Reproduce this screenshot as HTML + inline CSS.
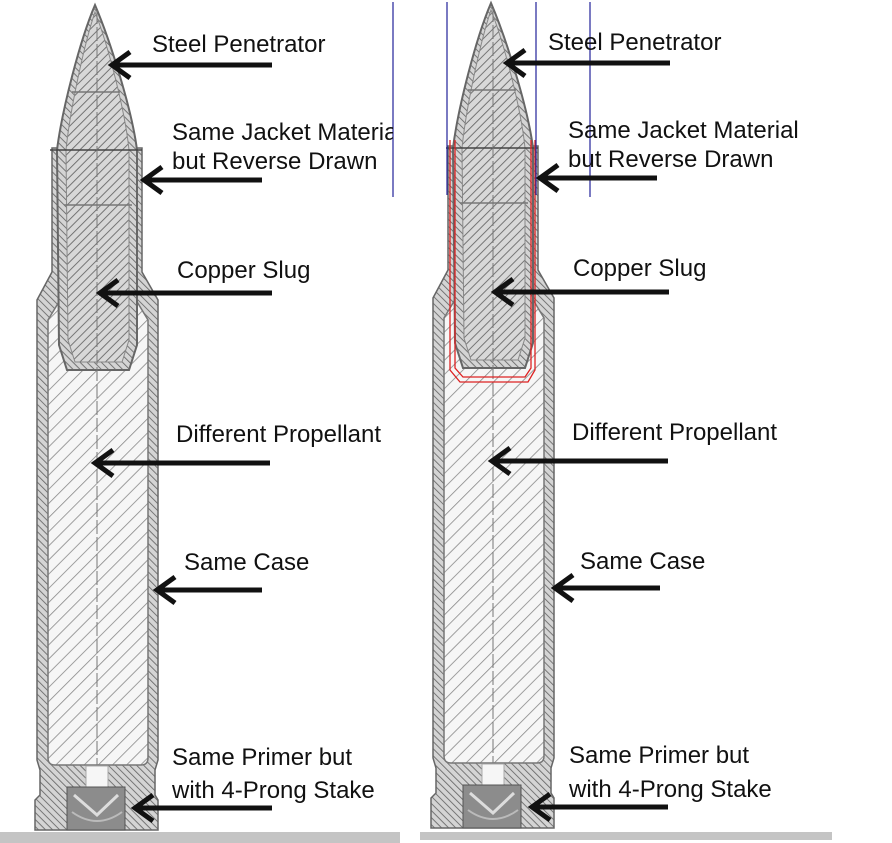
<!DOCTYPE html>
<html><head><meta charset="utf-8"><style>
html,body{margin:0;padding:0;background:#fff;}
svg{display:block;}
text{font-family:"Liberation Sans",sans-serif;font-size:24px;fill:#111;}
</style></head><body>
<svg width="892" height="843" viewBox="0 0 892 843" xmlns="http://www.w3.org/2000/svg">
<defs>
<clipPath id="cl"><rect x="0" y="0" width="393" height="843"/></clipPath>
<pattern id="h" width="6" height="6" patternUnits="userSpaceOnUse" patternTransform="rotate(45)">
<rect width="6" height="6" fill="#d8d8d8"/><line x1="0" y1="0" x2="0" y2="6" stroke="#6a6a6a" stroke-width="1.8"/></pattern>
<pattern id="h2" width="5" height="5" patternUnits="userSpaceOnUse" patternTransform="rotate(-45)">
<rect width="5" height="5" fill="#d4d4d4"/><line x1="0" y1="0" x2="0" y2="5" stroke="#666" stroke-width="1.7"/></pattern>
<pattern id="h3" width="10" height="10" patternUnits="userSpaceOnUse" patternTransform="rotate(45)">
<rect width="10" height="10" fill="#f6f6f6"/><line x1="0" y1="0" x2="0" y2="10" stroke="#888" stroke-width="1.6"/></pattern>
<g id="cart">
  <path d="M52,148 L52,272 L37,300 L37,760 L40,770 L40,795 L35,800 L35,830 L158,830 L158,800 L155,795 L155,770 L158,760 L158,300 L142,272 L142,148 Z" fill="url(#h2)" stroke="#666" stroke-width="1.5"/>
  <path d="M48,320 L60,300 L60,275 L136,275 L136,300 L148,320 L148,758 Q148,765 141,765 L55,765 Q48,765 48,758 Z" fill="url(#h3)" stroke="#777" stroke-width="1.5"/>
  <path d="M95,5 C80,40 62,110 57,150 L59,345 L67,370 L129,370 L137,345 L137,150 C132,110 110,40 95,5 Z" fill="url(#h2)" stroke="#666" stroke-width="2"/>
  <path d="M95,12 C84,45 70,110 66,150 L68,340 L75,362 L122,362 L129,340 L129,150 C125,110 108,45 95,12 Z" fill="url(#h)" stroke="#888" stroke-width="1"/>
  <line x1="72" y1="92" x2="120" y2="92" stroke="#777" stroke-width="1.5"/>
  <line x1="50" y1="150" x2="142" y2="150" stroke="#444" stroke-width="1.5"/>
  <line x1="64" y1="205" x2="132" y2="205" stroke="#777" stroke-width="1.5"/>
  <line x1="97" y1="10" x2="97" y2="800" stroke="#777" stroke-width="1" stroke-dasharray="14,3"/>
  <rect x="86" y="766" width="22" height="21" fill="#f6f6f6" stroke="#aaa"/>
  <rect x="67" y="787" width="58" height="43" fill="#8c8c8c" stroke="#555"/>
  <path d="M74,795 L97,815 L118,795" fill="none" stroke="#ddd" stroke-width="3"/>
  <path d="M72,812 Q97,830 122,812" fill="none" stroke="#bbb" stroke-width="2"/>
</g>
</defs>

<use href="#cart"/>
<use href="#cart" transform="translate(396,-2)"/>

<path d="M450,140 L450,370 L460,382 L528,382 L535,370 L535,140" fill="none" stroke="#d22" stroke-width="1.3"/>
<path d="M455,140 L455,368 L463,377 L525,377 L531,368 L531,140" fill="none" stroke="#d22" stroke-width="1.3"/>

<g stroke="#22229a" stroke-width="1.2">
<line x1="393" y1="2" x2="393" y2="197"/>
<line x1="447" y1="2" x2="447" y2="195"/>
<line x1="536" y1="2" x2="536" y2="195"/>
<line x1="590" y1="2" x2="590" y2="197"/>
</g>

<g stroke="#111" stroke-width="5" fill="none">
<path d="M272,65 L112,65 M130,52 L112,65 L130,78"/>
<path d="M262,180 L144,180 M162,167 L144,180 L162,193"/>
<path d="M272,293 L100,293 M118,280 L100,293 L118,306"/>
<path d="M270,463 L95,463 M113,450 L95,463 L113,476"/>
<path d="M262,590 L157,590 M175,577 L157,590 L175,603"/>
<path d="M272,808 L135,808 M153,795 L135,808 L153,821"/>
<path d="M670,63 L507,63 M525,50 L507,63 L525,76"/>
<path d="M657,178 L540,178 M558,165 L540,178 L558,191"/>
<path d="M669,292 L495,292 M513,279 L495,292 L513,305"/>
<path d="M668,461 L492,461 M510,448 L492,461 L510,474"/>
<path d="M660,588 L555,588 M573,575 L555,588 L573,601"/>
<path d="M668,807 L532,807 M550,794 L532,807 L550,820"/>
</g>

<g clip-path="url(#cl)">
<text x="152" y="52">Steel Penetrator</text>
<text x="172" y="140">Same Jacket Material</text>
<text x="172" y="169">but Reverse Drawn</text>
<text x="177" y="278">Copper Slug</text>
<text x="176" y="442">Different Propellant</text>
<text x="184" y="570">Same Case</text>
<text x="172" y="765">Same Primer but</text>
<text x="172" y="798">with 4-Prong Stake</text>
</g>

<text x="548" y="50">Steel Penetrator</text>
<text x="568" y="138">Same Jacket Material</text>
<text x="568" y="167">but Reverse Drawn</text>
<text x="573" y="276">Copper Slug</text>
<text x="572" y="440">Different Propellant</text>
<text x="580" y="569">Same Case</text>
<text x="569" y="763">Same Primer but</text>
<text x="569" y="797">with 4-Prong Stake</text>

<rect x="0" y="832" width="400" height="11" fill="#c4c4c4"/>
<rect x="420" y="832" width="412" height="8" fill="#c4c4c4"/>
</svg>
</body></html>
